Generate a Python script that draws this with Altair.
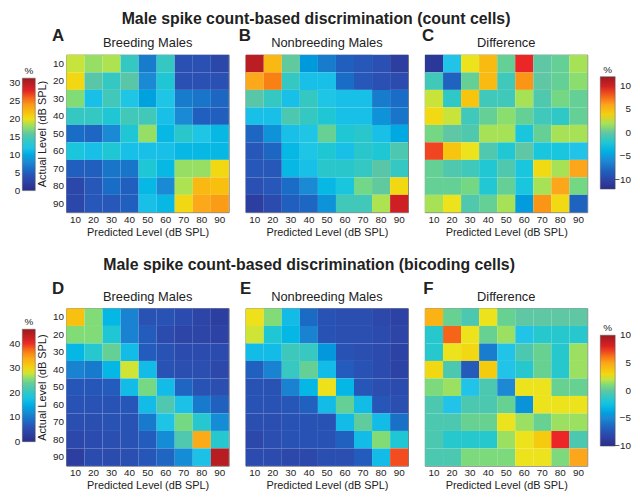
import altair as alt
import pandas as pd
import numpy as np

levels = [10, 20, 30, 40, 50, 60, 70, 80, 90]

# rows = actual level 10..90 (top to bottom), columns = predicted level 10..90
count_breeding = [
    [19, 18, 18.5, 14, 7, 14, 4, 4, 3],
    [20.5, 15.5, 14, 15.5, 8, 13, 4, 4, 4],
    [17.5, 11.5, 14.5, 12, 9.5, 12, 7, 6.5, 5.5],
    [14, 14, 13, 14.5, 14.5, 11.5, 8, 5, 5],
    [6, 5.5, 8, 13, 18, 11, 13.5, 12, 11],
    [12.5, 11.5, 13, 11.5, 11.5, 11.5, 11, 11, 11],
    [5, 5, 6.5, 6.5, 13, 11, 18, 18, 20.5],
    [3, 4.5, 6, 5, 11, 8, 18.5, 22.5, 22],
    [3, 4.5, 4.5, 5, 11.5, 11, 20.5, 23.5, 24],
]
count_nonbreeding = [
    [30, 22.5, 16, 9, 7, 5, 4.5, 4, 2],
    [23.5, 25, 14, 11.5, 11.5, 6, 4.5, 4, 3.5],
    [15.5, 14, 11.5, 14, 12, 11.5, 11.5, 7, 6],
    [11.5, 11.5, 15, 14, 13, 11.5, 11.5, 8.5, 6.5],
    [5.5, 8.5, 11.5, 12, 16.5, 13, 13.5, 11.5, 10],
    [4.5, 5.5, 11, 12, 13, 11.5, 13.5, 13, 15],
    [4.5, 4.5, 11, 11.5, 13.5, 13.5, 14, 15.5, 14],
    [4, 4.5, 6, 8, 11, 12.5, 17, 16, 20.5],
    [2, 3.5, 5, 5.5, 8.5, 14.5, 14.5, 18.5, 29],
]
count_difference = [
    [-11, -3, 3, 5, 0.5, 9, 0, 0.5, 2],
    [-1, -8, 0.5, 5, -1, 6.5, 0, 0.5, 1.5],
    [2.5, -1.5, 4.5, -1, -1, 2, -0.5, 1, 0.5],
    [3.5, 2.5, -1, 0.5, 1.5, 0.5, -1, -1.5, 0.5],
    [1, 0, -0.5, 2, 2, -2.5, 0.5, 2, 2],
    [8.5, 4.5, 3, -0.5, -2, 0, -2.5, -2.5, -3],
    [0.5, -0.5, -1, -2, -0.5, -2.5, 3.5, 2, 6],
    [0.5, 0.5, 1, -2, 0.5, -2.5, 2, 6, 1],
    [2, 3, -0.5, 0.5, 2, -5, 6.5, 3.5, -8],
]
bicoding_breeding = [
    [32, 25.5, 16, 11, 6, 6, 5, 4, 3],
    [25.5, 25.5, 19, 11, 7, 5, 4, 4, 3.5],
    [16, 19.5, 24, 16.5, 7, 6, 5, 5, 5],
    [11, 10, 16, 28, 16.5, 6, 5.5, 5.5, 4.5],
    [6.5, 6.5, 7, 16.5, 25, 16.5, 8, 6, 5.5],
    [6, 6, 6, 6.5, 16.5, 22, 17, 10, 7.5],
    [5.5, 5.5, 6, 6, 10, 17.5, 25, 19.5, 12],
    [4.5, 5, 5.5, 6, 7, 12, 22, 34, 19.5],
    [3, 5, 5, 5.5, 6.5, 8, 12, 17, 44],
]
bicoding_nonbreeding = [
    [29, 25.5, 16.5, 8.5, 6, 5.5, 5.5, 4.5, 3.5],
    [28, 19, 16, 11, 6, 5.5, 5.5, 5, 4],
    [16.5, 16.5, 21, 20.5, 13, 6, 5.5, 5, 3.5],
    [7.5, 11, 20.5, 24, 16.5, 7, 6, 5, 3.5],
    [6, 6, 11, 16, 29, 16, 6.5, 5.5, 5],
    [6, 6, 6.5, 7.5, 16.5, 24, 16.5, 6.5, 5.5],
    [5.5, 5.5, 6, 6, 6, 16.5, 23.5, 16.5, 9],
    [4.5, 5.5, 6, 6, 6, 7.5, 16.5, 25.5, 19],
    [5, 5, 4.5, 4.5, 5.5, 5.5, 7, 16.5, 39],
]
bicoding_difference = [
    [4.5, 0.5, -0.5, 2.5, 0.5, 0, 0, 0, 0],
    [-1.5, 6.5, 2.5, 0.5, 1.5, -2.5, -1.5, -1.5, -1.5],
    [-1.5, 2.5, 3, -5.5, -2.5, -0.5, 0.5, -1.5, 1.5],
    [3, -0.5, -7, 3.5, -2.5, -1.5, 0.5, -1.5, 1.5],
    [1, 1.5, -2.5, -0.5, -5, 2.5, 2.5, 0.5, 0.5],
    [-0.5, -2.5, -0.5, -0.5, 0.5, -4.5, 2.5, 2.5, 2.5],
    [-0.5, -0.5, 0.5, 0.5, 2.5, 1.5, 0.5, 1.5, 1.5],
    [-0.5, -1.5, -1.5, -1.5, 1.5, 2.5, 3.5, 7.5, -0.5],
    [-0.5, -0.5, 1, 1, 1, 2.5, 2.5, 1, 5],
]

titles = ["Male spike count-based discrimination (count cells)",
          "Male spike count-based discrimination (bicoding cells)"]

cticks = [0, 5, 10, 15, 20, 25, 30]
bticks = [0, 10, 20, 30, 40]
dticks = [-10, -5, 0, 5, 10]

JET = ["#2c2d8c", "#2b4fb3", "#1d88d3", "#21c4e8", "#5fc7a3",
       "#ede31c", "#fba61b", "#ec2526", "#9c1a1e"]

FONT = "Liberation Sans"
TXT = "#222222"
W = 164
H = 159


def to_df(matrix):
    rows = []
    for i, a in enumerate(levels):
        for j, p in enumerate(levels):
            rows.append({"actual": a, "pred": p, "value": matrix[i][j]})
    return pd.DataFrame(rows)


def text_layer(text, x, y, size, weight="normal", align="center"):
    return alt.Chart(pd.DataFrame({"t": [text]})).mark_text(
        fontSize=size, fontWeight=weight, font=FONT, color=TXT,
        align=align, baseline="alphabetic"
    ).encode(text="t:N", x=alt.value(x), y=alt.value(y))


def panel(matrix, letter, letter_dx, letter_y, sub, lo, hi, show_y, bar=None, extra=None):
    """bar = (side, ticks, top, length)"""
    stops = list(np.linspace(lo, hi, len(JET)))
    legend = None
    bar_layers = []
    if bar is not None:
        side, ticks, top, length = bar
        if side == "left":
            gx, thick, lab_x = -44.5, 13, -46.5
        else:
            gx, thick, lab_x = W + 13, 15, W + 44
        legend = alt.Legend(orient="none", direction="vertical", legendX=gx, legendY=top,
                            gradientLength=length, gradientThickness=thick,
                            values=[], title=None,
                            gradientStrokeColor="#555555", gradientStrokeWidth=0.5)
        bar_layers.append(
            alt.Chart(pd.DataFrame({"v": ticks})).mark_text(
                align="right", baseline="middle", fontSize=10, font=FONT, color=TXT
            ).encode(
                y=alt.Y("v:Q", scale=alt.Scale(domain=[lo, hi], range=[top + length, top]),
                        axis=None),
                x=alt.value(lab_x),
                text=alt.Text("v:Q", format="d"),
            )
        )
        bar_layers.append(text_layer("%", gx + thick / 2, top - 4, 10))

    yaxis = alt.Axis(title="Actual Level (dB SPL)", ticks=False, domain=False,
                     labelPadding=3, titlePadding=5, labelFontSize=10,
                     titleFontSize=11, titleFontWeight="normal",
                     labelColor=TXT, titleColor=TXT, labelFont=FONT,
                     titleFont=FONT) if show_y else None

    rect = alt.Chart(to_df(matrix)).mark_rect().encode(
        x=alt.X("pred:O", sort=levels,
                axis=alt.Axis(title="Predicted Level (dB SPL)", labelAngle=0, ticks=False,
                              domain=False, labelPadding=2, titlePadding=2,
                              labelFontSize=10, titleFontSize=11, titleFontWeight="normal",
                              labelColor=TXT, titleColor=TXT, labelFont=FONT,
                              titleFont=FONT)),
        y=alt.Y("actual:O", sort=levels, axis=yaxis),
        color=alt.Color("value:Q",
                        scale=alt.Scale(domain=stops, range=JET, clamp=True),
                        legend=legend),
    )
    layers = [rect,
              text_layer(letter, letter_dx, letter_y, 17, "bold"),
              text_layer(sub, W / 2, -7.5, 13)] + bar_layers
    if extra is not None:
        layers.append(extra)
    return alt.layer(*layers).resolve_scale(y="independent").properties(width=W, height=H)


pA = panel(count_breeding, "A", -8.5, -14, "Breeding Males", 0, 31.5, True,
           bar=("left", cticks, 23.5, 113.5))
pB = panel(count_nonbreeding, "B", -1, -14, "Nonbreeding Males", 0, 31.5, False,
           extra=text_layer(titles[0], 71, -31, 16, "bold"))
pC = panel(count_difference, "C", 3, -14, "Difference", -12, 12, False,
           bar=("right", dticks, 22, 113.5))
pD = panel(bicoding_breeding, "D", -8.5, -14.5, "Breeding Males", 0, 46, True,
           bar=("left", bticks, 21, 113.5))
pE = panel(bicoding_nonbreeding, "E", 0, -14.5, "Nonbreeding Males", 0, 46, False,
           extra=text_layer(titles[1], 64, -38.5, 16, "bold"))
pF = panel(bicoding_difference, "F", 3.5, -14.5, "Difference", -10, 10, False,
           bar=("right", dticks, 27, 112))

chart = alt.concat(
    pA, pB, pC, pD, pE, pF, columns=3,
    spacing=alt.RowColnumber(row=97, column=17), bounds="flush"
).resolve_scale(
    color="independent", x="independent", y="independent"
).properties(
    padding=0, background="white"
).configure_view(stroke="#555555", strokeWidth=0.8)

chart.save("out.html", embed_options={"renderer": "svg", "actions": False})
